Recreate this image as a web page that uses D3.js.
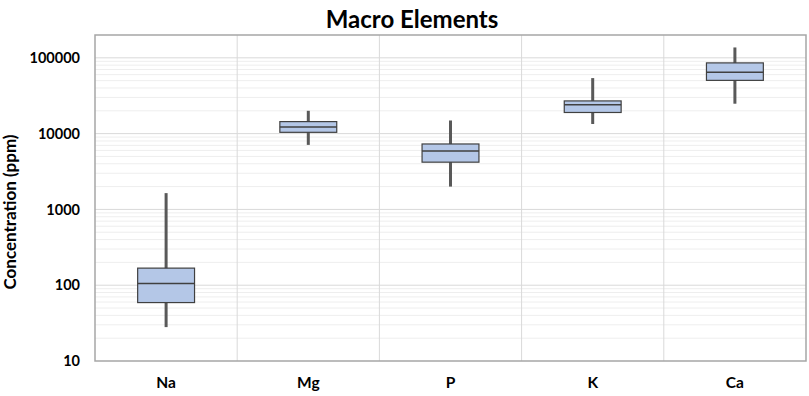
<!DOCTYPE html>
<html>
<head>
<meta charset="utf-8">
<script src="https://cdn.jsdelivr.net/npm/d3@7"></script>
<style>
  body { margin: 0; background: #fff; }
  svg { font-family: Lato, "Open Sans", sans-serif; }
</style>
</head>
<body>
<div class="chart"></div>
<script>
const elements = ['Na', 'Mg', 'P', 'K', 'Ca'];
const whiskerLow = [28, 7100, 2000, 13400, 24800];
const q1 = [59, 10400, 4200, 19000, 50400];
const medians = [105, 12200, 5900, 24100, 64300];
const q3 = [168, 14400, 7300, 27000, 85700];
const whiskerHigh = [1640, 20000, 14900, 54000, 137000];
const yTicks = [10, 100, 1000, 10000, 100000];

const margin = { top: 35, right: 3, bottom: 35, left: 95 };
const width = 809 - margin.left - margin.right;
const height = 396 - margin.top - margin.bottom;

const root = d3.select('.chart')
  .append('svg')
  .attr('width', 809)
  .attr('height', 396);

root.append('text')
  .attr('x', 412)
  .attr('y', 28)
  .attr('text-anchor', 'middle')
  .attr('font-size', 24)
  .attr('font-weight', 'bold')
  .attr('fill', '#000')
  .text('Macro Elements');

const svg = root.append('g')
  .attr('transform', `translate(${margin.left},${margin.top})`);

const x = d3.scaleBand()
  .domain(elements)
  .range([0, width]);

const y = d3.scaleLog()
  .domain([10, 200000])
  .range([height, 0]);

// minor gridlines
const minor = [];
for (let p = 1; p < 6; p++) {
  for (let m = 2; m <= 9; m++) {
    const v = m * Math.pow(10, p);
    if (v < 200000) minor.push(v);
  }
}
svg.selectAll('.minor')
  .data(minor)
  .enter()
  .append('line')
  .attr('x1', 0)
  .attr('x2', width)
  .attr('y1', d => y(d))
  .attr('y2', d => y(d))
  .attr('stroke', '#eeeeee')
  .attr('stroke-width', 1);

svg.selectAll('.major')
  .data(yTicks.slice(1))
  .enter()
  .append('line')
  .attr('x1', 0)
  .attr('x2', width)
  .attr('y1', d => y(d))
  .attr('y2', d => y(d))
  .attr('stroke', '#d9d9d9')
  .attr('stroke-width', 1);

// vertical category separators
svg.selectAll('.vgrid')
  .data(elements.slice(1))
  .enter()
  .append('line')
  .attr('x1', d => x(d))
  .attr('x2', d => x(d))
  .attr('y1', 0)
  .attr('y2', height)
  .attr('stroke', '#d9d9d9')
  .attr('stroke-width', 1);

svg.append('rect')
  .attr('x', 0)
  .attr('y', 0)
  .attr('width', width)
  .attr('height', height)
  .attr('fill', 'none')
  .attr('stroke', '#a6a6a6')
  .attr('stroke-width', 1.5);

// y axis labels
const yAxis = svg.append('g')
  .call(d3.axisLeft(y).tickValues(yTicks).tickFormat(d3.format('d')).tickSize(0).tickPadding(15));
yAxis.select('.domain').remove();
yAxis.selectAll('text')
  .attr('font-family', 'Lato, "Open Sans", sans-serif')
  .attr('font-size', 14.5)
  .attr('font-weight', 'bold')
  .attr('fill', '#000');

// x axis labels
const xAxis = svg.append('g')
  .attr('transform', `translate(0,${height})`)
  .call(d3.axisBottom(x).tickSize(0).tickPadding(16));
xAxis.select('.domain').remove();
xAxis.selectAll('text')
  .attr('font-family', 'Lato, "Open Sans", sans-serif')
  .attr('font-size', 15.5)
  .attr('font-weight', 'bold')
  .attr('fill', '#000');

root.append('text')
  .attr('transform', `translate(16,212) rotate(-90)`)
  .attr('text-anchor', 'middle')
  .attr('font-size', 17)
  .attr('font-weight', 'bold')
  .attr('fill', '#000')
  .text('Concentration (ppm)');

const boxes = elements.map((e, i) => ({
  name: e,
  lo: whiskerLow[i], q1: q1[i], med: medians[i], q3: q3[i], hi: whiskerHigh[i]
}));

const boxW = x.bandwidth() * 0.4;
const groups = svg.selectAll('.box')
  .data(boxes)
  .enter()
  .append('g')
  .attr('class', 'box')
  .attr('transform', d => `translate(${x(d.name) + x.bandwidth() / 2},0)`);

groups.append('line')
  .attr('x1', 0).attr('x2', 0)
  .attr('y1', d => y(d.lo))
  .attr('y2', d => y(d.hi))
  .attr('stroke', '#595959')
  .attr('stroke-width', 3);

groups.append('rect')
  .attr('x', -boxW / 2)
  .attr('width', boxW)
  .attr('y', d => y(d.q3))
  .attr('height', d => y(d.q1) - y(d.q3))
  .attr('fill', '#b4c7e7')
  .attr('stroke', '#404040')
  .attr('stroke-width', 1.2);

groups.append('line')
  .attr('x1', -boxW / 2).attr('x2', boxW / 2)
  .attr('y1', d => y(d.med))
  .attr('y2', d => y(d.med))
  .attr('stroke', '#404040')
  .attr('stroke-width', 1.5);
</script>
</body>
</html>
